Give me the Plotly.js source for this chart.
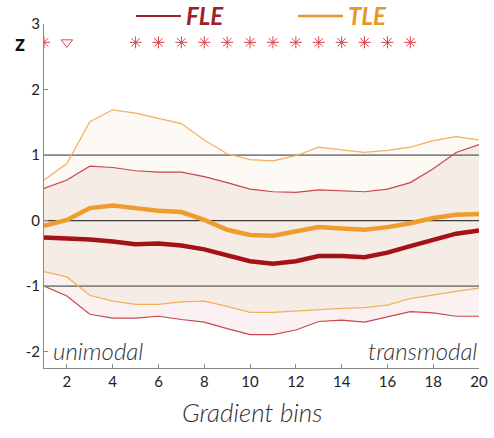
<!DOCTYPE html>
<html>
<head>
<meta charset="utf-8">
<script src="https://cdn.plot.ly/plotly-3.0.1.min.js"></script>
<style>html,body{margin:0;padding:0;background:#fff;}#chart{width:494px;height:438px;}</style>
</head>
<body>
<div id="chart"></div>
<script>
// ---- data ----
var bins = [1,2,3,4,5,6,7,8,9,10,11,12,13,14,15,16,17,18,19,20];
var fleMean  = [-0.26,-0.27,-0.29,-0.32,-0.36,-0.35,-0.38,-0.44,-0.53,-0.62,-0.66,-0.62,-0.54,-0.54,-0.56,-0.49,-0.39,-0.30,-0.20,-0.15];
var fleUpper = [0.49,0.62,0.83,0.81,0.76,0.74,0.74,0.67,0.58,0.48,0.44,0.43,0.47,0.45,0.44,0.48,0.58,0.79,1.04,1.16];
var fleLower = [-1.00,-1.15,-1.43,-1.49,-1.49,-1.46,-1.51,-1.55,-1.65,-1.74,-1.74,-1.67,-1.54,-1.52,-1.55,-1.47,-1.39,-1.41,-1.46,-1.46];
var tleMean  = [-0.08,0.01,0.19,0.23,0.19,0.15,0.13,0.01,-0.14,-0.22,-0.23,-0.17,-0.10,-0.12,-0.14,-0.10,-0.04,0.04,0.09,0.10];
var tleUpper = [0.62,0.87,1.51,1.69,1.64,1.56,1.48,1.23,1.02,0.93,0.91,0.99,1.12,1.08,1.04,1.07,1.12,1.22,1.28,1.23];
var tleLower = [-0.78,-0.86,-1.14,-1.23,-1.28,-1.28,-1.24,-1.23,-1.31,-1.40,-1.40,-1.38,-1.35,-1.34,-1.33,-1.29,-1.19,-1.13,-1.08,-1.03];
var starBins = [1,5,6,7,8,9,10,11,12,13,14,15,16,17];
var triBins = [2];
var sigLevel = 2.72;
var refLevels = [-1, 0, 1];
var xTicks = [2,4,6,8,10,12,14,16,18,20];
var yTicks = [-2,-1,0,1,2,3];

// ---- styles ----
var FLE_DARK = '#a31217', FLE_THIN = '#c8474f', FLE_LEG = '#a0202a';
var TLE_DARK = '#ef9c2c', TLE_THIN = '#f3b05a', TLE_LEG = '#e8962a';
var FONT = 'Lato, "Open Sans", sans-serif';

function rep(v, n){ var a=[]; for(var i=0;i<n;i++) a.push(v); return a; }

var traces = [];
// fills
traces.push({x:bins, y:tleUpper, mode:'lines', line:{width:0}, showlegend:false, hoverinfo:'skip'});
traces.push({x:bins, y:fleUpper, mode:'lines', line:{width:0}, fill:'tonexty', fillcolor:'#fdf9f4', showlegend:false, hoverinfo:'skip'});
traces.push({x:bins, y:tleLower, mode:'lines', line:{width:0}, fill:'tonexty', fillcolor:'#f5ece6', showlegend:false, hoverinfo:'skip'});
traces.push({x:bins, y:fleLower, mode:'lines', line:{width:0}, fill:'tonexty', fillcolor:'#fbf0f2', showlegend:false, hoverinfo:'skip'});
// reference lines
refLevels.forEach(function(lv){
  traces.push({x:[bins[0], bins[bins.length-1]], y:[lv, lv], mode:'lines',
    line:{color: lv===0 ? '#3c3c3c' : '#858585', width: lv===0 ? 1.3 : 1.8},
    showlegend:false, hoverinfo:'skip'});
});
// bounds
traces.push({x:bins, y:tleUpper, mode:'lines', line:{color:TLE_THIN, width:1.2}, showlegend:false});
traces.push({x:bins, y:tleLower, mode:'lines', line:{color:TLE_THIN, width:1.2}, showlegend:false});
traces.push({x:bins, y:fleUpper, mode:'lines', line:{color:FLE_THIN, width:1.2}, showlegend:false});
traces.push({x:bins, y:fleLower, mode:'lines', line:{color:FLE_THIN, width:1.2}, showlegend:false});
// means
traces.push({x:bins, y:tleMean, mode:'lines', line:{color:TLE_DARK, width:4.5}, showlegend:false});
traces.push({x:bins, y:fleMean, mode:'lines', line:{color:FLE_DARK, width:4.5}, showlegend:false});
// significance markers
traces.push({x:starBins, y:rep(sigLevel, starBins.length), mode:'markers',
  marker:{symbol:'asterisk-open', size:10, color:'#d9444c', line:{color:'#d9444c', width:1}}, showlegend:false});
traces.push({x:triBins, y:rep(sigLevel, triBins.length), mode:'markers',
  marker:{symbol:'triangle-down-open', size:10, color:'#d9444c', line:{color:'#d9444c', width:1}}, showlegend:false});
// legend entries
traces.push({x:[null], y:[null], mode:'lines', name:'<span style="color:'+FLE_LEG+'"><b><i>FLE</i></b></span>', line:{color:FLE_LEG, width:2}});
traces.push({x:[null], y:[null], mode:'lines', name:'<span style="color:'+TLE_LEG+'"><b><i>TLE</i></b></span>', line:{color:TLE_LEG, width:2.5}});

var layout = {
  width:494, height:438,
  margin:{l:44, r:15, t:24, b:70, autoexpand:false},
  paper_bgcolor:'#fff', plot_bgcolor:'#fff',
  font:{family:FONT, color:'#222'},
  showlegend:true,
  legend:{orientation:'h', traceorder:'normal', x:0.2, xanchor:'left', y:1.022, yanchor:'middle',
    font:{size:24, family:FONT}, itemwidth:45, entrywidth:102, entrywidthmode:'pixels', bgcolor:'rgba(0,0,0,0)',
    borderwidth:0},
  xaxis:{range:[1,20], tickvals:xTicks, ticktext:xTicks.map(String), ticks:'inside', ticklen:4, tickcolor:'#888',
    showline:true, linecolor:'#888', linewidth:1, showgrid:false, zeroline:false,
    tickfont:{size:15, color:'#222'}},
  yaxis:{range:[-2.25,3], tickvals:yTicks, ticktext:yTicks.map(String), ticks:'inside', ticklen:4, tickcolor:'#888',
    showline:true, linecolor:'#888', linewidth:1, showgrid:false, zeroline:false,
    tickfont:{size:15, color:'#222'}},
  annotations:[
    {text:'<i>Gradient bins</i>', xref:'paper', yref:'paper', x:0.478, y:-0.129, xanchor:'center', yanchor:'middle', showarrow:false, font:{size:26, color:'#333', weight:300}},
    {text:'<b>z</b>', xref:'paper', yref:'paper', x:-0.055, y:0.945, xanchor:'center', yanchor:'middle', showarrow:false, font:{size:22, color:'#111'}},
    {text:'<i>unimodal</i>', xref:'paper', yref:'paper', x:0.015, y:0.05, xanchor:'left', yanchor:'middle', showarrow:false, font:{size:24, color:'#333', weight:300}},
    {text:'<i>transmodal</i>', xref:'paper', yref:'paper', x:1.0, y:0.05, xanchor:'right', yanchor:'middle', showarrow:false, font:{size:24, color:'#333', weight:300}}
  ]
};

Plotly.newPlot('chart', traces, layout, {staticPlot:true, displayModeBar:false});
</script>
</body>
</html>
